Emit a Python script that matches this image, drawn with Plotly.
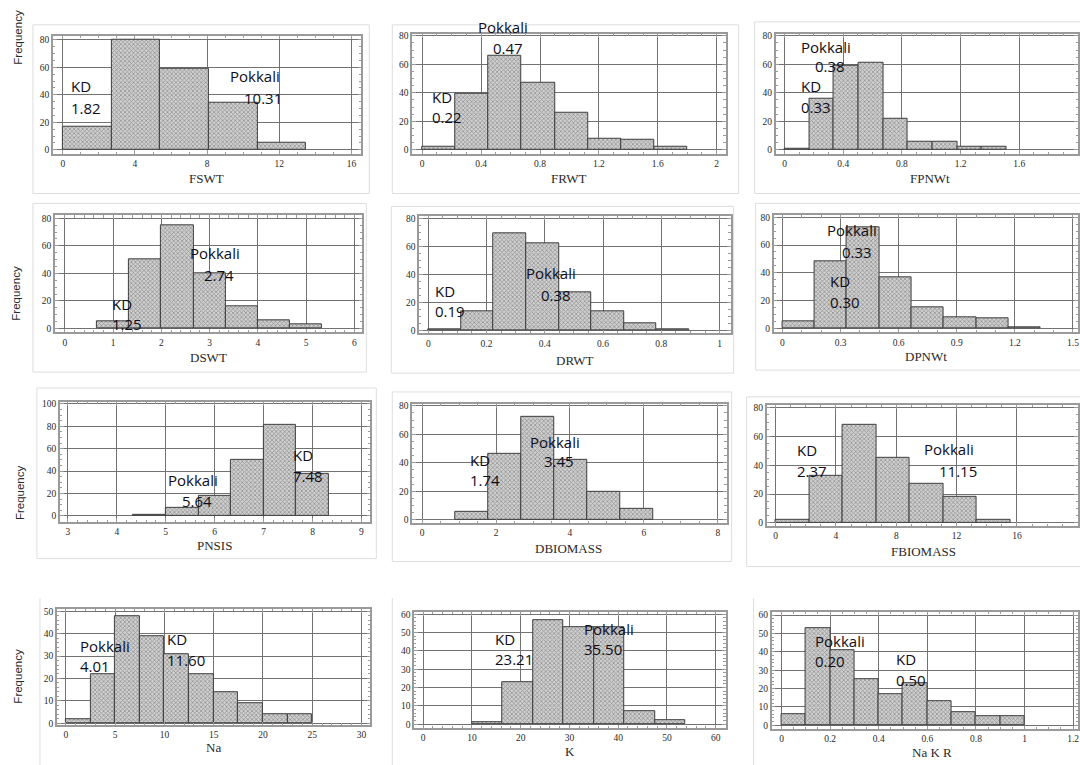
import numpy as np
import plotly.graph_objects as go

# ---------------- data: histogram bin edges and frequencies ----------------
fswt_edges = [0, 2.7, 5.4, 8.1, 10.8, 13.5]
fswt_counts = [17, 80, 59, 34, 5]

frwt_edges = [0, 0.225, 0.45, 0.675, 0.9, 1.125, 1.35, 1.575, 1.8]
frwt_counts = [2, 39, 66, 47, 26, 8, 7, 2]

fpnwt_edges = [0, 0.168, 0.336, 0.504, 0.672, 0.84, 1.008, 1.176, 1.344, 1.512]
fpnwt_counts = [1, 36, 59, 61, 22, 6, 6, 2, 2]

dswt_edges = [0.667, 1.333, 2.0, 2.667, 3.333, 4.0, 4.667, 5.333]
dswt_counts = [5, 50, 75, 40, 16, 6, 3]

drwt_edges = [0, 0.112, 0.224, 0.336, 0.448, 0.56, 0.672, 0.784, 0.896]
drwt_counts = [1, 14, 69, 62, 27, 14, 5, 1]

dpnwt_edges = [0, 0.167, 0.333, 0.5, 0.667, 0.833, 1.0, 1.167, 1.333]
dpnwt_counts = [5, 48, 73, 37, 15, 8, 7, 1]

pnsis_edges = [4.333, 5.0, 5.667, 6.333, 7.0, 7.667, 8.333]
pnsis_counts = [1, 7, 18, 50, 81, 38]

dbiomass_edges = [0.9, 1.79, 2.68, 3.57, 4.46, 5.35, 6.24]
dbiomass_counts = [6, 46, 72, 42, 20, 8]

fbiomass_edges = [0, 2.22, 4.44, 6.67, 8.89, 11.11, 13.33, 15.56]
fbiomass_counts = [2, 33, 68, 45, 27, 18, 2]

na_edges = [0, 2.5, 5, 7.5, 10, 12.5, 15, 17.5, 20, 22.5, 25]
na_counts = [2, 22, 48, 39, 31, 22, 14, 9, 4, 4]

k_edges = [10, 16.25, 22.5, 28.75, 35, 41.25, 47.5, 53.75]
k_counts = [1, 23, 57, 53, 53, 7, 2]

nakr_edges = [0, 0.1, 0.2, 0.3, 0.4, 0.5, 0.6, 0.7, 0.8, 0.9, 1.0]
nakr_counts = [6, 53, 41, 25, 17, 23, 13, 7, 5, 5]

# Parent means written on each panel
kd_mean = {"FSWT": "1.82", "FRWT": "0.22", "FPNWt": "0.33", "DSWT": "1.25",
           "DRWT": "0.19", "DPNWt": "0.30", "PNSIS": "7.48", "DBIOMASS": "1.74",
           "FBIOMASS": "2.37", "Na": "11.60", "K": "23.21", "Na K R": "0.50"}
pokkali_mean = {"FSWT": "10.31", "FRWT": "0.47", "FPNWt": "0.38", "DSWT": "2.74",
                "DRWT": "0.38", "DPNWt": "0.33", "PNSIS": "5.64", "DBIOMASS": "3.45",
                "FBIOMASS": "11.15", "Na": "4.01", "K": "35.50", "Na K R": "0.20"}

traits = ["FSWT", "FRWT", "FPNWt", "DSWT", "DRWT", "DPNWt",
          "PNSIS", "DBIOMASS", "FBIOMASS", "Na", "K", "Na K R"]
hist_data = {
    "FSWT": (fswt_edges, fswt_counts), "FRWT": (frwt_edges, frwt_counts),
    "FPNWt": (fpnwt_edges, fpnwt_counts), "DSWT": (dswt_edges, dswt_counts),
    "DRWT": (drwt_edges, drwt_counts), "DPNWt": (dpnwt_edges, dpnwt_counts),
    "PNSIS": (pnsis_edges, pnsis_counts), "DBIOMASS": (dbiomass_edges, dbiomass_counts),
    "FBIOMASS": (fbiomass_edges, fbiomass_counts), "Na": (na_edges, na_counts),
    "K": (k_edges, k_counts), "Na K R": (nakr_edges, nakr_counts),
}

# ---------------- panel geometry (pixels) and axis settings ----------------
W, H = 1080, 765
# left, right, top, bottom of the plot frame; x range; y range; x dtick; y dtick; title centre
panels = {
    "FSWT":     dict(box=(53, 362, 33, 152),  xr=(-0.55, 16.55),  yr=(-2.9, 82.9),  dx=4,   dy=20, title=(207, 177)),
    "FRWT":     dict(box=(413, 727, 31, 152), xr=(-0.068, 2.061), yr=(-2.8, 81.4),  dx=0.4, dy=20, title=(570, 177)),
    "FPNWt":    dict(box=(777, 1080, 31, 152), xr=(-0.061, 2.0),  yr=(-2.8, 81.4),  dx=0.4, dy=20, title=(932, 177)),
    "DSWT":     dict(box=(55, 363, 214, 332), xr=(-0.207, 6.166), yr=(-2.9, 82.2),  dx=1,   dy=20, title=(209, 357)),
    "DRWT":     dict(box=(420, 732, 215, 333), xr=(-0.031, 1.038), yr=(-2.1, 81.4), dx=0.2, dy=20, title=(576, 360)),
    "DPNWt":    dict(box=(775, 1080, 214, 332), xr=(-0.046, 1.526), yr=(-2.9, 81.4), dx=0.3, dy=20, title=(928, 356)),
    "PNSIS":    dict(box=(60, 371, 402, 523), xr=(2.837, 9.18),   yr=(-5.3, 101.8), dx=1,   dy=20, title=(215, 547)),
    "DBIOMASS": dict(box=(413, 728, 404, 524), xr=(-0.27, 8.24),  yr=(-2.1, 81.4),  dx=2,   dy=20, title=(570, 550)),
    "FBIOMASS": dict(box=(768, 1080, 405, 527), xr=(-0.6, 20.05), yr=(-2.1, 82.0),  dx=4,   dy=20, title=(925, 553)),
    "Na":       dict(box=(57, 371, 611, 728), xr=(-0.91, 30.9),   yr=(-0.9, 50.9),  dx=5,   dy=10, title=(214, 750)),
    "K":        dict(box=(415, 727, 614, 731), xr=(-1.84, 62.05), yr=(-2.2, 61.1),  dx=10,  dy=10, title=(571, 754)),
    "Na K R":   dict(box=(773, 1080, 614, 732), xr=(-0.041, 1.22), yr=(-2.2, 61.6), dx=0.2, dy=10, title=(934, 755)),
}

# label placement: (left x, centre y) of each text line in pixels
label_pos = {
    "FSWT":     dict(kd=((69, 84), (69, 106)),   pk=((228, 74), (242, 96))),
    "FRWT":     dict(kd=((431, 95), (431, 115)), pk=((477, 24), (492, 45))),
    "FPNWt":    dict(kd=((800, 84), (800, 105)), pk=((800, 44), (815, 64))),
    "DSWT":     dict(kd=((110, 303), (110, 324)), pk=((188, 252), (202, 274))),
    "DRWT":     dict(kd=((434, 290), (434, 310)), pk=((525, 272), (540, 294))),
    "DPNWt":    dict(kd=((830, 280), (830, 301)), pk=((827, 229), (842, 251))),
    "PNSIS":    dict(kd=((292, 456), (292, 477)), pk=((166, 481), (180, 502))),
    "DBIOMASS": dict(kd=((469, 461), (469, 481)), pk=((529, 442), (543, 462))),
    "FBIOMASS": dict(kd=((796, 451), (796, 472)), pk=((924, 450), (939, 472))),
    "Na":       dict(kd=((165, 641), (165, 662)), pk=((78, 648), (78, 668))),
    "K":        dict(kd=((494, 641), (494, 661)), pk=((583, 631), (583, 651))),
    "Na K R":   dict(kd=((896, 661), (896, 682)), pk=((815, 643), (815, 663))),
}

# light frames around each chart tile
tiles = [(33, 370, 22, 192), (393, 740, 22, 192), (756, 1085, 19, 192),
         (33, 367, 202, 372), (392, 735, 205, 373), (757, 1085, 202, 370),
         (37, 377, 388, 560), (393, 733, 392, 563), (748, 1085, 397, 568)]
# bottom row tiles only show their left edges
tile_edges = [(40, 600, 770), (393, 600, 770), (755, 600, 770)]

freq_labels = [(18, 34), (16, 292), (20, 493), (18, 678)]


def px_x(p):
    return p / W


def px_y(p):
    return 1 - p / H


fig = go.Figure()
layout = {}
annotations = []
shapes = []

tick_font = dict(family="Liberation Serif, Times New Roman, serif", size=9.5, color="#2a2a2a")
label_font = dict(family="Open Sans, Noto Sans, sans-serif", size=15, color="#0e0e18")

for i, name in enumerate(traits, start=1):
    edges, counts = hist_data[name]
    edges = np.asarray(edges, dtype=float)
    centres = (edges[:-1] + edges[1:]) / 2
    widths = np.diff(edges)
    sfx = "" if i == 1 else str(i)
    fig.add_trace(go.Bar(
        x=centres, y=counts, width=widths,
        xaxis="x" + sfx, yaxis="y" + sfx,
        marker=dict(color="#bdbdbd",
                    line=dict(color="#3e3e3e", width=1),
                    pattern=dict(shape="x", size=3, solidity=0.45,
                                 fgcolor="#5a5a5a", bgcolor="#cfcfcf")),
        showlegend=False, hoverinfo="skip",
    ))
    p = panels[name]
    L, R, T, B = p["box"]
    common = dict(showgrid=True, gridcolor="#727272", gridwidth=1, zeroline=False,
                  showline=True, linecolor="#9a9a9a", linewidth=1.5, mirror="allticks",
                  ticks="inside", ticklen=4, tickcolor="#9a9a9a",
                  tickfont=tick_font,
                  minor=dict(ticks="inside", ticklen=2.5, tickcolor="#9a9a9a", nticks=5, showgrid=False))
    layout["xaxis" + sfx] = dict(common, domain=[px_x(L), px_x(R)], range=list(p["xr"]),
                                 dtick=p["dx"], tick0=0, anchor="y" + sfx)
    layout["yaxis" + sfx] = dict(common, domain=[px_y(B), px_y(T)], range=list(p["yr"]),
                                 dtick=p["dy"], tick0=0, anchor="x" + sfx)

    # axis title under the panel
    tx, ty = p["title"]
    annotations.append(dict(text=name, x=px_x(tx), y=px_y(ty), xref="paper", yref="paper",
                            showarrow=False, xanchor="center", yanchor="middle",
                            font=dict(family="Liberation Serif, Times New Roman, serif",
                                      size=13, color="#2a2a2a")))

    # parent labels with their mean values
    lp = label_pos[name]
    for (key, title, mean) in (("kd", "KD", kd_mean[name]), ("pk", "Pokkali", pokkali_mean[name])):
        (x1, y1), (x2, y2) = lp[key]
        annotations.append(dict(text=title, x=px_x(x1), y=px_y(y1), xref="paper", yref="paper",
                                showarrow=False, xanchor="left", yanchor="middle", font=label_font))
        annotations.append(dict(text=mean, x=px_x(x2), y=px_y(y2), xref="paper", yref="paper",
                                showarrow=False, xanchor="left", yanchor="middle", font=label_font))

for (fx, fy) in freq_labels:
    annotations.append(dict(text="Frequency", x=px_x(fx), y=px_y(fy), xref="paper", yref="paper",
                            showarrow=False, textangle=-90, xanchor="center", yanchor="middle",
                            font=dict(family="Liberation Sans, Arial, sans-serif", size=11.5,
                                      color="#2a2a2a")))

for (l, r, t, b) in tiles:
    shapes.append(dict(type="rect", xref="paper", yref="paper",
                       x0=px_x(l), x1=px_x(r), y0=px_y(b), y1=px_y(t),
                       line=dict(color="#dedede", width=1), layer="below"))
for (xe, t, b) in tile_edges:
    shapes.append(dict(type="line", xref="paper", yref="paper",
                       x0=px_x(xe), x1=px_x(xe), y0=px_y(b), y1=px_y(t),
                       line=dict(color="#dedede", width=1), layer="below"))

fig.update_layout(
    width=W, height=H,
    margin=dict(l=0, r=0, t=0, b=0),
    paper_bgcolor="white", plot_bgcolor="white",
    bargap=0, annotations=annotations, shapes=shapes,
    **layout,
)

fig.write_html("out.html", include_plotlyjs=True, config={"displayModeBar": False})
